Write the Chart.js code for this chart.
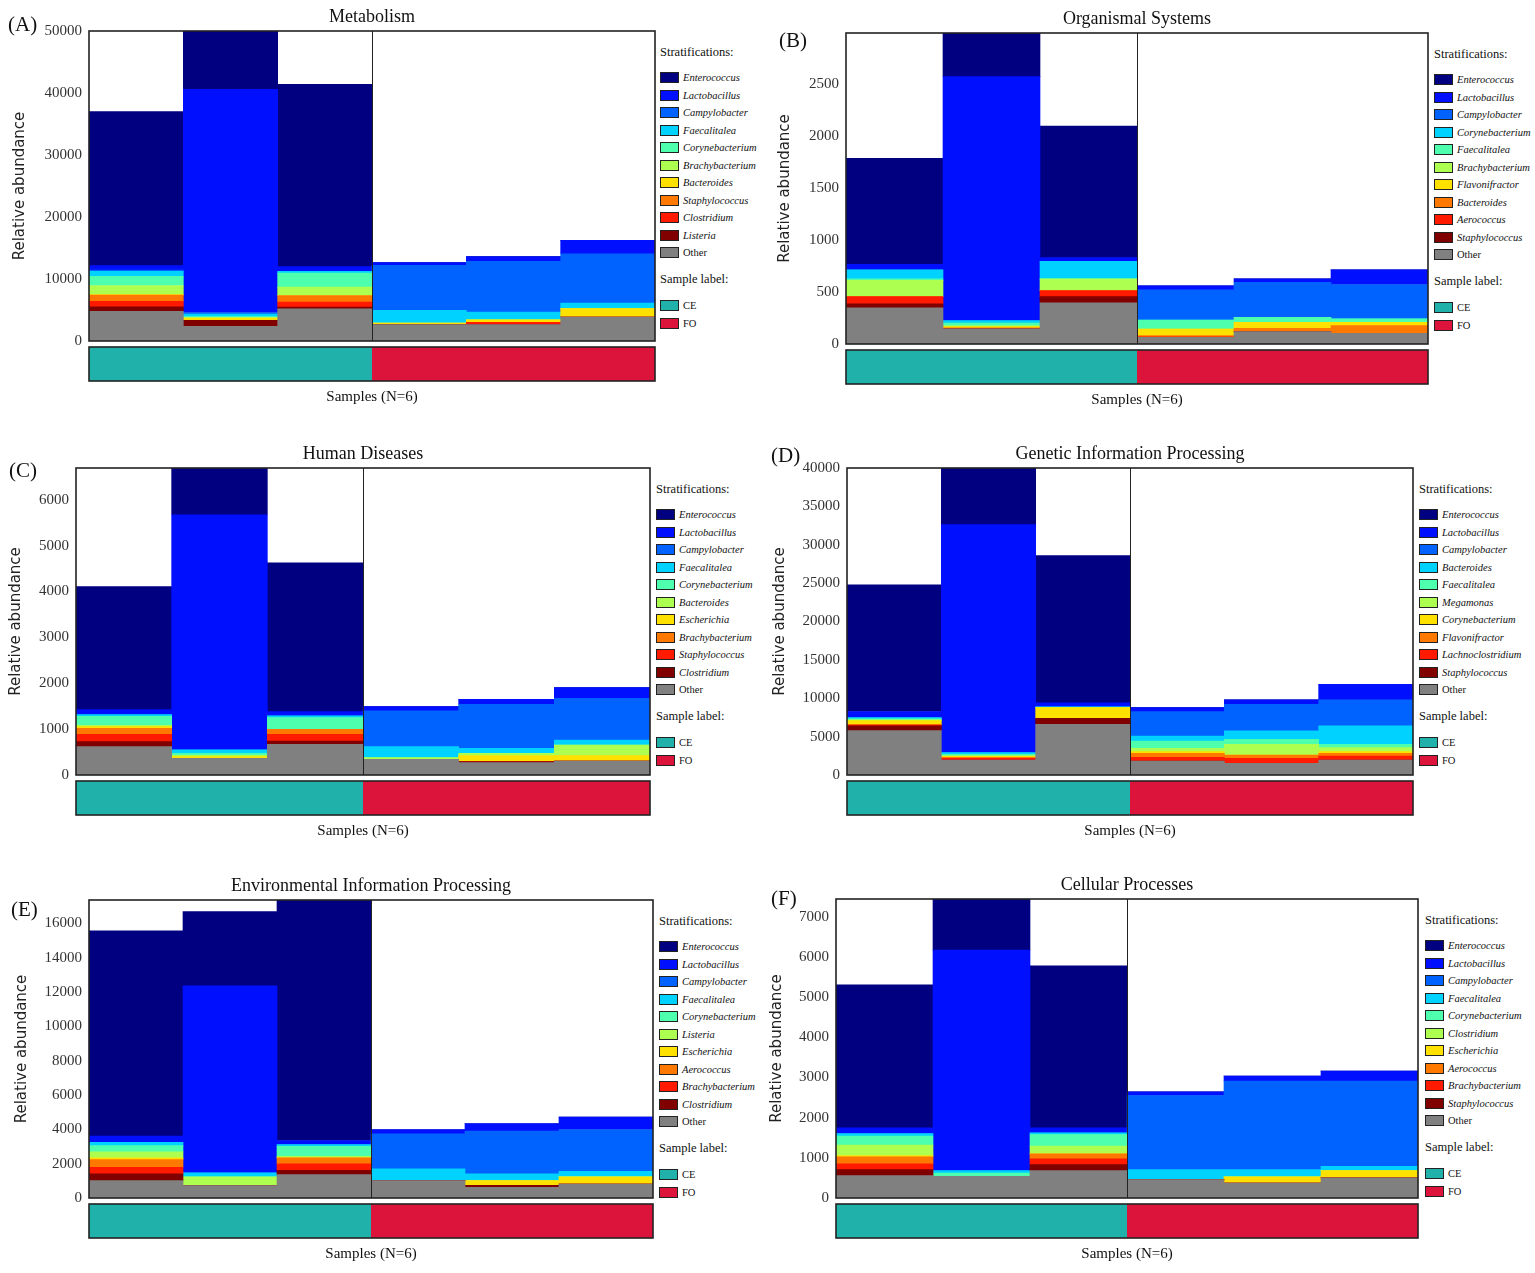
<!DOCTYPE html>
<html>
<head>
<meta charset="utf-8">
<script src="https://cdn.jsdelivr.net/npm/chart.js@4.4.1/dist/chart.umd.min.js"></script>
<style>
  body { margin: 0; background: #fff; width: 1535px; height: 1273px; position: relative; overflow: hidden;
         font-family: "Liberation Serif", "Times New Roman", serif; color: #111; }
  canvas { position: absolute; }
  .letter { position: absolute; font-size: 21px; line-height: 24px; }
  .lg { position: absolute; white-space: nowrap; line-height: 18px; }
  .lg .sw { position: absolute; left: 0; top: 3px; width: 17px; height: 9px; border: 1.5px solid #222; }
  .lg .tx { position: absolute; left: 23px; top: 0; }
  .head { font-size: 12.5px; }
  .item { font-size: 10.5px; font-style: italic; }
  .plain { font-size: 10.5px; }
</style>
</head>
<body>
<script>
const samples = ['CE1', 'CE2', 'CE3', 'FO1', 'FO2', 'FO3'];
const sampleGroups = ['CE', 'CE', 'CE', 'FO', 'FO', 'FO'];
const groupNames = ['CE', 'FO'];
const groupColors = ['#20b2aa', '#dc143c'];
// jet-like palette, top legend entry first, "Other" last
const taxaColors = ['#000080', '#0010ff', '#0062ff', '#00d2ff', '#4effad', '#adff50',
                    '#ffe100', '#ff7800', '#ff1a00', '#800000', '#808080'];

// (A) Metabolism
const metabolismTaxa = ['Enterococcus', 'Lactobacillus', 'Campylobacter', 'Faecalitalea', 'Corynebacterium',
  'Brachybacterium', 'Bacteroides', 'Staphylococcus', 'Clostridium', 'Listeria', 'Other'];
const metabolismCounts = [
  [24850, 9410, 29400, 0, 0, 0],
  [700, 36000, 750, 430, 750, 2150],
  [200, 250, 0, 7260, 8200, 7960],
  [800, 400, 300, 2040, 1240, 900],
  [1500, 150, 2260, 0, 0, 0],
  [1450, 100, 1340, 0, 0, 0],
  [100, 350, 0, 270, 380, 1340],
  [1000, 0, 1070, 0, 0, 0],
  [900, 0, 800, 0, 400, 0],
  [700, 970, 270, 0, 0, 0],
  [4800, 2370, 5200, 2630, 2630, 3870]
];

// (B) Organismal Systems
const organismalTaxa = ['Enterococcus', 'Lactobacillus', 'Campylobacter', 'Corynebacterium', 'Faecalitalea',
  'Brachybacterium', 'Flavonifractor', 'Bacteroides', 'Aerococcus', 'Staphylococcus', 'Other'];
const organismalCounts = [
  [1019, 419, 1264, 0, 0, 0],
  [51, 2346, 35, 39, 33, 141],
  [0, 0, 0, 289, 337, 331],
  [87, 25, 170, 0, 0, 0],
  [16, 25, 0, 87, 48, 32],
  [154, 8, 112, 0, 0, 0],
  [0, 12, 0, 64, 58, 32],
  [0, 10, 0, 11, 32, 74],
  [71, 0, 58, 5, 0, 0],
  [39, 0, 61, 0, 0, 0],
  [347, 145, 395, 64, 119, 103]
];

// (C) Human Diseases
const humanTaxa = ['Enterococcus', 'Lactobacillus', 'Campylobacter', 'Faecalitalea', 'Corynebacterium',
  'Bacteroides', 'Escherichia', 'Brachybacterium', 'Staphylococcus', 'Clostridium', 'Other'];
const humanCounts = [
  [2685, 1018, 3243, 0, 0, 0],
  [109, 5127, 95, 95, 109, 233],
  [0, 0, 0, 778, 960, 909],
  [36, 73, 36, 240, 109, 109],
  [196, 43, 255, 0, 0, 0],
  [30, 30, 0, 36, 51, 233],
  [36, 36, 0, 0, 131, 116],
  [130, 0, 109, 0, 0, 0],
  [160, 0, 145, 0, 0, 0],
  [109, 0, 73, 0, 22, 0],
  [618, 364, 669, 342, 269, 305]
];

// (D) Genetic Information Processing
const geneticTaxa = ['Enterococcus', 'Lactobacillus', 'Campylobacter', 'Bacteroides', 'Faecalitalea',
  'Megamonas', 'Corynebacterium', 'Flavonifractor', 'Lachnoclostridium', 'Staphylococcus', 'Other'];
const geneticCounts = [
  [16500, 7386, 19174, 0, 0, 0],
  [783, 29700, 522, 522, 565, 2043],
  [0, 0, 0, 3174, 3478, 3391],
  [170, 235, 100, 652, 1087, 2391],
  [130, 200, 0, 957, 652, 435],
  [100, 0, 0, 435, 1391, 522],
  [565, 174, 1391, 217, 0, 217],
  [0, 148, 0, 522, 435, 348],
  [130, 200, 0, 478, 652, 522],
  [609, 0, 783, 0, 0, 0],
  [5783, 1957, 6609, 1826, 1522, 1957]
];

// (E) Environmental Information Processing
const environmentalTaxa = ['Enterococcus', 'Lactobacillus', 'Campylobacter', 'Faecalitalea', 'Corynebacterium',
  'Listeria', 'Escherichia', 'Aerococcus', 'Brachybacterium', 'Clostridium', 'Other'];
const environmentalCounts = [
  [11965, 4319, 14008, 0, 0, 0],
  [350, 10895, 233, 253, 447, 720],
  [0, 0, 0, 2043, 2490, 2432],
  [195, 233, 97, 681, 389, 331],
  [370, 0, 584, 0, 0, 0],
  [350, 506, 97, 0, 0, 0],
  [97, 0, 0, 0, 272, 409],
  [447, 0, 350, 0, 0, 0],
  [389, 0, 370, 0, 0, 0],
  [389, 0, 253, 0, 117, 0],
  [1012, 720, 1362, 1012, 623, 817]
];

// (F) Cellular Processes
const cellularTaxa = ['Enterococcus', 'Lactobacillus', 'Campylobacter', 'Faecalitalea', 'Corynebacterium',
  'Clostridium', 'Escherichia', 'Aerococcus', 'Brachybacterium', 'Staphylococcus', 'Other'];
const cellularCounts = [
  [3558, 1273, 4032, 0, 0, 0],
  [141, 5486, 125, 91, 125, 249],
  [0, 0, 0, 1845, 2203, 2120],
  [67, 58, 42, 249, 183, 108],
  [224, 83, 291, 0, 0, 0],
  [258, 0, 191, 0, 0, 0],
  [33, 0, 0, 0, 150, 183],
  [175, 0, 125, 0, 0, 0],
  [141, 0, 141, 0, 0, 0],
  [150, 0, 150, 0, 0, 0],
  [557, 540, 682, 457, 374, 499]
];

// layout of each panel on the page: plot box [left, right, top, bottom]
const panels = [
  { letter: '(A)', title: 'Metabolism', taxa: metabolismTaxa, counts: metabolismCounts, step: 10000,
    plot: [89, 655, 31, 341], yTitleX: 20, letterAt: [8, 24], legendX: 660 },
  { letter: '(B)', title: 'Organismal Systems', taxa: organismalTaxa, counts: organismalCounts, step: 500,
    plot: [846, 1428, 33, 344], yTitleX: 785, letterAt: [779, 40], legendX: 1434 },
  { letter: '(C)', title: 'Human Diseases', taxa: humanTaxa, counts: humanCounts, step: 1000,
    plot: [76, 650, 468, 775], yTitleX: 16, letterAt: [9, 470], legendX: 656 },
  { letter: '(D)', title: 'Genetic Information Processing', taxa: geneticTaxa, counts: geneticCounts, step: 5000,
    plot: [847, 1413, 468, 775], yTitleX: 780, letterAt: [771, 455], legendX: 1419 },
  { letter: '(E)', title: 'Environmental Information Processing', taxa: environmentalTaxa, counts: environmentalCounts, step: 2000,
    plot: [89, 653, 900, 1198], yTitleX: 22, letterAt: [11, 909], legendX: 659 },
  { letter: '(F)', title: 'Cellular Processes', taxa: cellularTaxa, counts: cellularCounts, step: 1000,
    plot: [836, 1418, 899, 1198], yTitleX: 777, letterAt: [771, 898], legendX: 1425 }
];

const TOP_SPACE = 30;     // canvas space above plot (title)
const X_AXIS_H = 66;      // sample strip + "Samples (N=6)"
const TITLE_SIZE = 18;

// plot frame, CE/FO separator and the sample label strip
const framePlugin = {
  id: 'frame',
  afterDraw(chart) {
    const { ctx, chartArea: a, scales: { x } } = chart;
    const half = (x.getPixelForValue(1) - x.getPixelForValue(0)) / 2;
    ctx.save();
    const y0 = a.bottom + 6, h = 34;
    // one block per group, spanning its samples
    groupNames.forEach((g, gi) => {
      const idx = sampleGroups.map((s, i) => s === g ? i : -1).filter(i => i >= 0);
      const x0 = x.getPixelForValue(idx[0]) - half;
      const x1 = x.getPixelForValue(idx[idx.length - 1]) + half;
      ctx.fillStyle = groupColors[gi];
      ctx.fillRect(Math.round(x0), y0, Math.round(x1) - Math.round(x0), h);
    });
    ctx.strokeStyle = '#222';
    ctx.lineWidth = 1;
    for (let i = 1; i < sampleGroups.length; i++) {
      if (sampleGroups[i] !== sampleGroups[i - 1]) {
        const xm = Math.round(x.getPixelForValue(i) - half) + 0.5;
        ctx.beginPath();
        ctx.moveTo(xm, a.top);
        ctx.lineTo(xm, a.bottom);
        ctx.stroke();
      }
    }
    ctx.lineWidth = 1.6;
    ctx.strokeRect(a.left, a.top, a.width, a.height);
    ctx.strokeRect(a.left, y0, a.width, h);
    ctx.restore();
  }
};

function addText(cls, text, x, y) {
  const d = document.createElement('div');
  d.className = cls;
  d.textContent = text;
  d.style.left = x + 'px';
  d.style.top = y + 'px';
  document.body.appendChild(d);
  return d;
}

function addLegendRow(x, yCenter, text, color, cls) {
  const row = document.createElement('div');
  row.className = 'lg';
  row.style.left = x + 'px';
  row.style.top = (yCenter - 9) + 'px';
  if (color) {
    const sw = document.createElement('span');
    sw.className = 'sw';
    sw.style.background = color;
    row.appendChild(sw);
  }
  const tx = document.createElement('span');
  tx.className = 'tx ' + cls;
  if (!color) tx.style.left = '0px';
  tx.textContent = text;
  row.appendChild(tx);
  document.body.appendChild(row);
}

function drawPanel(p) {
  const [pl, pr, pt, pb] = p.plot;
  const left = p.yTitleX - 12;
  const top = pt - TOP_SPACE;
  const w = pr + 3 - left;
  const h = TOP_SPACE + (pb - pt) + X_AXIS_H;

  const canvas = document.createElement('canvas');
  canvas.width = w;
  canvas.height = h;
  canvas.style.left = left + 'px';
  canvas.style.top = top + 'px';
  canvas.style.width = w + 'px';
  canvas.style.height = h + 'px';
  document.body.appendChild(canvas);

  const totals = samples.map((_, j) => p.counts.reduce((s, row) => s + row[j], 0));
  const yMax = Math.max(...totals);

  // stack bottom-up: "Other" first, top legend entry last
  const datasets = p.taxa.map((name, i) => ({
    label: name,
    data: p.counts[i],
    backgroundColor: taxaColors[i],
    borderWidth: 0
  })).reverse();

  new Chart(canvas.getContext('2d'), {
    type: 'bar',
    data: { labels: samples, datasets: datasets },
    options: {
      responsive: false,
      animation: false,
      devicePixelRatio: 1,
      layout: { padding: { top: TOP_SPACE - (TITLE_SIZE * 1.2 + 3), right: 3, bottom: 0, left: 0 } },
      datasets: { bar: { barPercentage: 1, categoryPercentage: 1 } },
      plugins: {
        legend: { display: false },
        tooltip: { enabled: false },
        title: {
          display: true, text: p.title, fullSize: false, color: '#111',
          font: { family: 'Liberation Serif', size: TITLE_SIZE, weight: 'normal' },
          padding: { top: 0, bottom: 3 }
        }
      },
      scales: {
        x: {
          stacked: true,
          grid: { display: false, drawTicks: false },
          border: { display: false },
          ticks: { display: false },
          title: {
            display: true, text: 'Samples (N=6)', color: '#111',
            font: { family: 'Liberation Serif', size: 15 },
            padding: { top: 0, bottom: 1 }
          },
          afterFit: (s) => { s.height = X_AXIS_H; }
        },
        y: {
          stacked: true,
          min: 0,
          max: yMax,
          bounds: 'data',
          grid: { display: false, drawTicks: false },
          border: { display: false },
          ticks: {
            color: '#333',
            padding: 7,
            font: { family: 'Liberation Serif', size: 15 },
            callback: (v) => String(v)
          },
          // ticks at whole multiples of the panel step, up to the tallest bar
          afterBuildTicks: (s) => {
            const t = [];
            for (let v = 0; v <= s.max + 1e-6; v += p.step) t.push({ value: v });
            s.ticks = t;
          },
          title: {
            display: true, text: 'Relative abundance', color: '#222',
            font: { family: 'DejaVu Sans', size: 15 },
            padding: { top: 3, bottom: 0 }
          },
          afterFit: (s) => { s.width = pl - left; }
        }
      }
    },
    plugins: [framePlugin]
  });

  addText('letter', p.letter, p.letterAt[0], p.letterAt[1] - 12);

  const lx = p.legendX;
  addLegendRow(lx, pt + 21, 'Stratifications:', null, 'head');
  p.taxa.forEach((name, i) => {
    addLegendRow(lx, pt + 47 + i * 17.5, name, taxaColors[i], name === 'Other' ? 'plain' : 'item');
  });
  const lastY = pt + 47 + (p.taxa.length - 1) * 17.5;
  addLegendRow(lx, lastY + 26, 'Sample label:', null, 'head');
  groupNames.forEach((g, i) => {
    addLegendRow(lx, lastY + 53 + i * 17.5, g, groupColors[i], 'plain');
  });
}

panels.forEach(drawPanel);
</script>
</body>
</html>
